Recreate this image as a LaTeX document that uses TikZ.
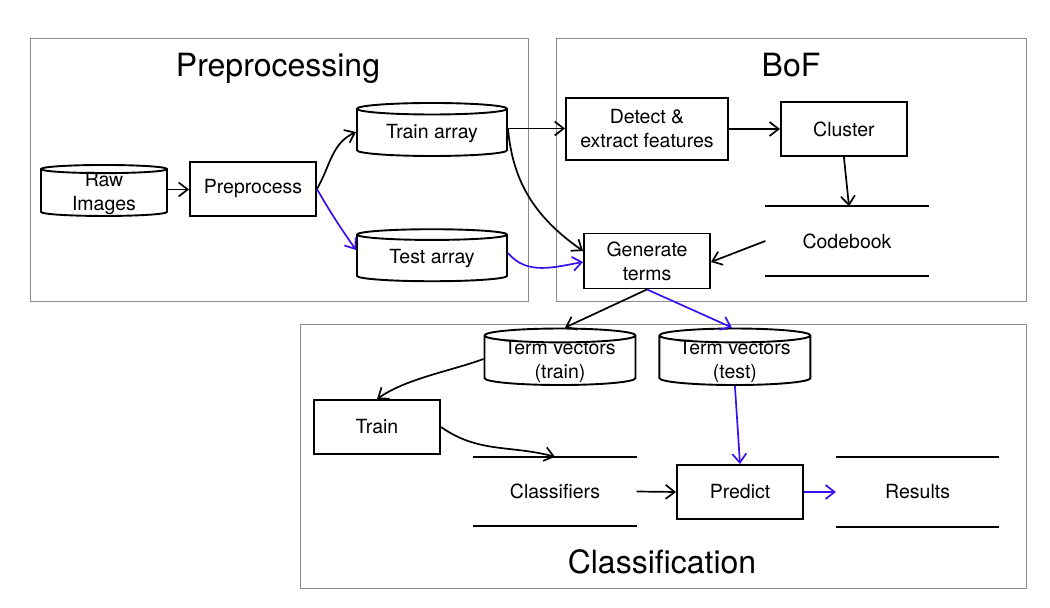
\documentclass[tikz,border=0pt]{standalone}
\usepackage{fontspec}
\setmainfont{TeX Gyre Heros}
\usetikzlibrary{positioning}
\usetikzlibrary{arrows.meta}
\usetikzlibrary{shapes.geometric}
\definecolor{flowblue}{RGB}{58,16,240}
\definecolor{framegray}{RGB}{140,140,140}
\tikzset{procbox/.style={rectangle,draw=black,fill=white,line width=1.9pt,
inner sep=2pt,minimum height=54pt, minimum width=126pt,align=center,
font=\fontsize{19.5}{24}\selectfont}}
\tikzset{datadrum/.style={cylinder,shape border rotate=90,aspect=0.12,draw=black,fill=white,
line width=1.9pt,inner sep=2pt,inner ysep=-3pt,minimum height=53pt, minimum width=150pt,align=center,
font=\fontsize{19.5}{24}\selectfont}}
\tikzset{datastore/.style={rectangle,draw=none,inner sep=2pt,
minimum height=69pt, minimum width=163pt,font=\fontsize{19.5}{24}\selectfont}}
\tikzset{stagebox/.style={rectangle,draw=framegray,line width=0.8pt}}
\tikzset{stagetitle/.style={anchor=base,font=\fontsize{32}{38}\selectfont}}
\tikzset{flow/.style={line width=1.7pt,-{Straight Barb[length=9pt,width=14pt]}}}
\tikzset{testflow/.style={flow,draw=flowblue}}

\begin{document}
\begin{tikzpicture}[x=1pt,y=1pt]
    \useasboundingbox (0,0) rectangle (1050,608);

    % stage frames
    \draw[stagebox] (30,307) rectangle (528,570);
    \draw[stagebox] (556,307) rectangle (1026,570);
    \draw[stagebox] (300,20) rectangle (1026,284);
    \node[stagetitle] (preptitle) at (278,531) {Preprocessing};
    \node[stagetitle] (boftitle) at (791,531) {BoF};
    \node[stagetitle] (classtitle) at (662,34) {Classification};

    % preprocessing
    \node[procbox] (prep) at (253,419) {Preprocess};
    \node[datadrum, minimum width=126pt, minimum height=51pt] (rawimg) at (104,414.5) {Raw\\Images};
    \node[datadrum] (trainarr) at (432,474.5) {Train array};
    \node[datadrum, minimum height=52pt] (testarr) at (432,349) {Test array};

    % bag of features
    \node[procbox, minimum width=162pt, minimum height=62pt] (detect) at (647,479) {Detect \&\\extract features};
    \node[procbox] (cluster) [right=51pt of detect] {Cluster};
    \node[datastore] (codebook) at (847,367) {Codebook};
    \node[procbox, minimum height=55pt] (genterms) at (647,347) {Generate\\terms};

    % classification
    \node[datadrum, minimum width=151pt] (tvtrain) at (560,246.5) {Term vectors\\(train)};
    \node[datadrum, minimum width=151pt] (tvtest) [right=22pt of tvtrain] {Term vectors\\(test)};
    \node[procbox] (train) at (377,181) {Train};
    \node[datastore] (classif) at (555,116.5) {Classifiers};
    \node[procbox] (predict) at (740,116) {Predict};
    \node[datastore] (results) [right=32pt of predict] {Results};

    \foreach \s in {codebook,classif,results}
        \draw[line width=1.9pt] (\s.north west) -- (\s.north east) (\s.south west) -- (\s.south east);

    % connectors
    \draw[flow] ([yshift=4pt]rawimg.east) -- ([yshift=4pt]rawimg.east -| prep.west);
    \draw[flow] (prep.east) to[out=60,in=205] ([yshift=1.5pt]trainarr.west);
    \draw[testflow] (prep.east) to[out=-60,in=125] ([yshift=9pt]testarr.west);
    \draw[flow] ([yshift=5pt]trainarr.east) -- ([yshift=5pt]trainarr.east -| detect.west);
    \draw[flow] ([yshift=5pt]trainarr.east) to[out=-85,in=145] ([yshift=10pt]genterms.west);
    \draw[testflow] ([yshift=6pt]testarr.east) to[out=-50,in=190] ([yshift=-1pt]genterms.west);
    \draw[flow] (detect.east) -- (detect.east -| cluster.west);
    \draw[flow] (cluster.south) -- ([xshift=2pt]codebook.north);
    \draw[flow] (codebook.west) -- ([yshift=-1pt]genterms.east);
    \draw[flow] (genterms.south) -- ([xshift=5pt]tvtrain.north);
    \draw[testflow] (genterms.south) -- ([xshift=-3pt]tvtest.north);
    \draw[flow] ([yshift=2.5pt]tvtrain.west) to[out=200,in=35,looseness=0.8] (train.north);
    \draw[flow] (train.east) to[out=-35,in=165] (classif.north);
    \draw[flow] (classif.east) -- (predict.west);
    \draw[testflow] (tvtest.south) -- (predict.north);
    \draw[testflow] (predict.east) -- (results.west);

\end{tikzpicture}
\end{document}
